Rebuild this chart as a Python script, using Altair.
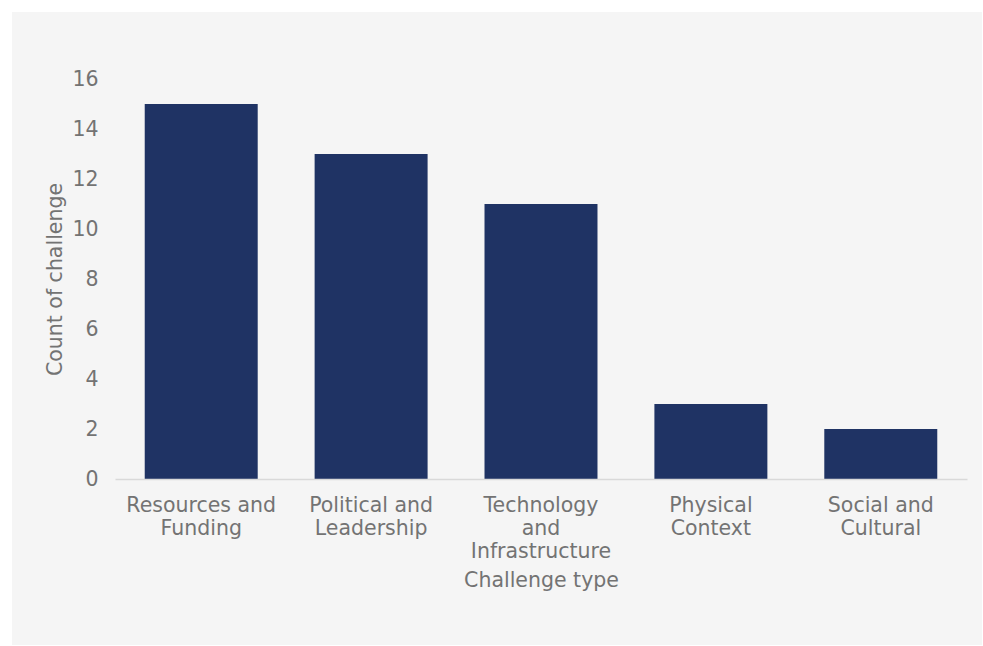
import altair as alt
import pandas as pd

categories = ["Resources and Funding", "Political and Leadership",
              "Technology and Infrastructure", "Physical Context", "Social and Cultural"]
counts = [15, 13, 11, 3, 2]
label_lines = {
    "Resources and Funding": ["Resources and", "Funding"],
    "Political and Leadership": ["Political and", "Leadership"],
    "Technology and Infrastructure": ["Technology", "and", "Infrastructure"],
    "Physical Context": ["Physical", "Context"],
    "Social and Cultural": ["Social and", "Cultural"],
}

df = pd.DataFrame({"type": categories, "count": counts})

expr = ""
for k, v in label_lines.items():
    arr = "[" + ",".join("'" + s + "'" for s in v) + "]"
    expr += f"datum.label == '{k}' ? {arr} : "
expr += "datum.label"

FONT = "DejaVu Sans"
GREY = "#737373"
FS = 20.5

bg = alt.Chart(pd.DataFrame({"a": [0]})).mark_rect(color="#f5f5f5").encode(
    x=alt.value(-103), x2=alt.value(867), y=alt.value(-67), y2=alt.value(566)
)

bars = alt.Chart(df).mark_bar(color="#1f3364").encode(
    x=alt.X("type:N", sort=categories, title="Challenge type",
            scale=alt.Scale(paddingInner=0.335, paddingOuter=0.175),
            axis=alt.Axis(labelAngle=0, labelExpr=expr, labelFont=FONT, labelFontSize=FS,
                          labelColor=GREY, labelPadding=16, labelLineHeight=23,
                          ticks=False, domainColor="#d9d9d9", domainWidth=1.5,
                          titleFont=FONT, titleFontSize=FS, titleFontWeight="normal",
                          titleColor=GREY, titlePadding=9, zindex=1)),
    y=alt.Y("count:Q", title="Count of challenge",
            scale=alt.Scale(domain=[0, 16]),
            axis=alt.Axis(values=list(range(0, 17, 2)), grid=False, domain=False, ticks=False,
                          labelFont=FONT, labelFontSize=FS, labelColor=GREY, labelPadding=17,
                          titleFont=FONT, titleFontSize=FS, titleFontWeight="normal",
                          titleColor=GREY, titlePadding=6, zindex=1)),
)

chart = alt.layer(bg, bars).properties(
    width=852, height=400,
    background="white",
    padding={"left": 115, "top": 79, "right": 16, "bottom": 167},
    autosize=alt.AutoSizeParams(type="none"),
).configure_view(strokeWidth=0)

chart.save("out.html", embed_options={"renderer": "svg", "actions": False})
